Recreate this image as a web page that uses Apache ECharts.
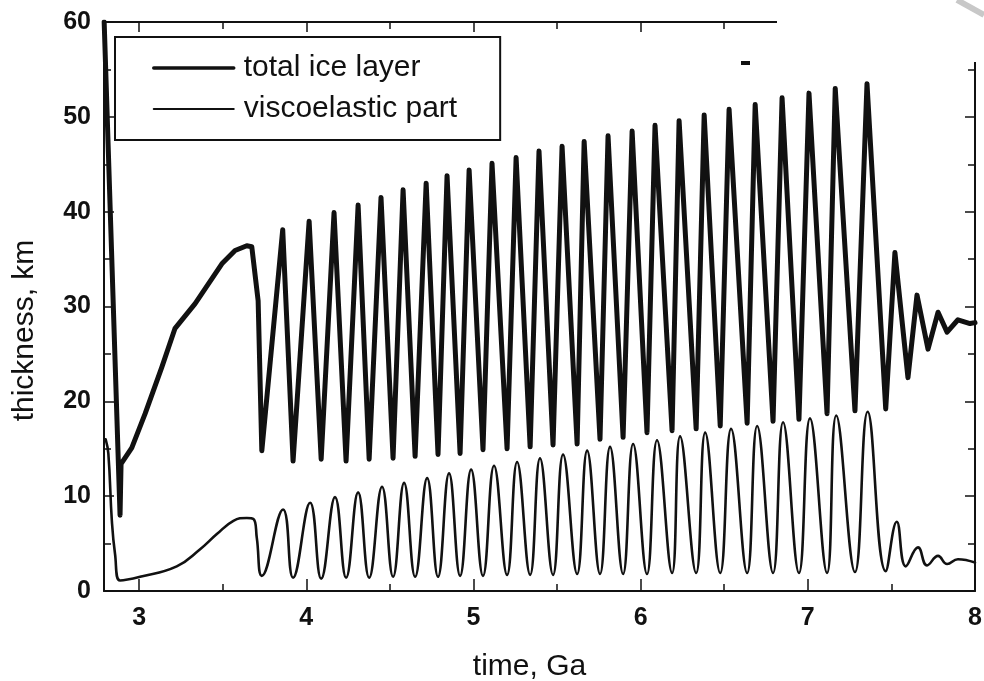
<!DOCTYPE html>
<html>
<head>
<meta charset="utf-8">
<script src="https://cdn.jsdelivr.net/npm/echarts/dist/echarts.min.js"></script>
<style>
html, body { margin: 0; padding: 0; background: #fff; }
#chart { width: 984px; height: 681px; }
</style>
</head>
<body>
<div id="chart"></div>
<script>
//////////////////////////////
//  data
//////////////////////////////
// time, Ga
var totalTime = [2.791, 2.886, 2.892, 2.956, 3.036, 3.136, 3.215, 3.335, 3.495, 3.574,
    3.644, 3.674, 3.712, 3.734,
    3.859, 3.921, 4.017, 4.089, 4.166, 4.238, 4.310, 4.376, 4.447, 4.519,
    4.579, 4.651, 4.717, 4.788, 4.842, 4.920, 4.974, 5.057, 5.111, 5.201,
    5.255, 5.339, 5.392, 5.476, 5.530, 5.620, 5.662, 5.757, 5.805, 5.895,
    5.949, 6.038, 6.086, 6.188, 6.230, 6.332, 6.380, 6.476, 6.529, 6.637,
    6.685, 6.792, 6.846, 6.947, 7.007, 7.115, 7.164, 7.282, 7.354, 7.466,
    7.521, 7.599, 7.653, 7.719, 7.779, 7.833, 7.898, 7.970, 8.0];
// thickness, km
var totalIce = [60, 8, 13.4, 15.1, 18.7, 23.6, 27.7, 30.3, 34.5, 35.9,
    36.4, 36.3, 30.6, 14.8,
    38.1, 13.7, 39.0, 13.9, 39.9, 13.7, 40.7, 13.9, 41.5, 14.0,
    42.3, 14.2, 43.0, 14.4, 43.8, 14.5, 44.4, 14.9, 45.1, 15.0,
    45.7, 15.2, 46.4, 15.4, 46.9, 15.5, 47.4, 16.0, 48.0, 16.2,
    48.5, 16.7, 49.1, 16.9, 49.6, 17.1, 50.2, 17.4, 50.8, 17.7,
    51.3, 17.9, 52.0, 18.1, 52.5, 18.7, 53.0, 19.0, 53.5, 19.2,
    35.7, 22.5, 31.2, 25.5, 29.4, 27.3, 28.6, 28.2, 28.3];

var viscoTime = [2.80, 2.816, 2.837, 2.856, 2.886, 3.006, 3.225, 3.365, 3.465, 3.564,
    3.644, 3.684, 3.704, 3.734,
    3.861, 3.921, 4.023, 4.089, 4.172, 4.238, 4.310, 4.376, 4.453, 4.519,
    4.585, 4.651, 4.723, 4.788, 4.854, 4.920, 4.986, 5.057, 5.123, 5.201,
    5.261, 5.339, 5.398, 5.476, 5.536, 5.620, 5.680, 5.757, 5.817, 5.895,
    5.955, 6.038, 6.098, 6.188, 6.236, 6.332, 6.386, 6.476, 6.541, 6.637,
    6.697, 6.792, 6.852, 6.947, 7.013, 7.115, 7.170, 7.282, 7.358, 7.466,
    7.532, 7.586, 7.659, 7.713, 7.779, 7.833, 7.898, 8.0];
var viscoPart = [16, 14.5, 7.4, 3.9, 1.1, 1.5, 2.6, 4.4, 6.0, 7.4,
    7.7, 7.6, 5.6, 1.6,
    8.6, 1.4, 9.3, 1.3, 9.9, 1.4, 10.4, 1.4, 11.0, 1.5,
    11.4, 1.5, 11.9, 1.5, 12.4, 1.6, 12.8, 1.6, 13.2, 1.7,
    13.6, 1.7, 14.0, 1.7, 14.4, 1.8, 14.8, 1.8, 15.2, 1.8,
    15.5, 1.8, 15.9, 1.9, 16.3, 1.9, 16.7, 1.9, 17.1, 1.9,
    17.4, 1.9, 17.8, 1.9, 18.2, 1.9, 18.5, 2.0, 18.9, 2.1,
    7.3, 2.6, 4.6, 2.7, 3.7, 2.85, 3.35, 3.0];

var seriesNames = ['total ice layer', 'viscoelastic part'];

function pairs(xs, ys) {
    var out = [];
    for (var i = 0; i < xs.length; i++) {
        out.push([xs[i], ys[i]]);
    }
    return out;
}

var ink = '#111';
var font = 'Liberation Sans';

// 坐标轴公共样式 (frame with inward ticks)
function frameAxis(extra) {
    var ax = {
        type: 'value',
        splitLine: { show: false },
        axisLine: { show: true, onZero: false, lineStyle: { color: ink, width: 2 } },
        axisTick: { show: true, inside: true, length: 12, lineStyle: { color: ink, width: 1.5 } },
        minorTick: { show: true, splitNumber: 2, length: 7, lineStyle: { color: ink, width: 1.5 } },
        axisLabel: {
            color: ink,
            fontFamily: font,
            fontWeight: 'bold',
            fontSize: 25
        }
    };
    for (var k in extra) ax[k] = extra[k];
    return ax;
}

var myChart = echarts.init(document.getElementById('chart'), null, { renderer: 'canvas' });

var option = {
    backgroundColor: '#fff',
    animation: false,
    grid: { left: 104, right: 9, top: 22, bottom: 90, outerBoundsMode: 'none' },
    legend: {
        orient: 'vertical',
        left: 115,
        top: 37,
        padding: [16, 43, 16, 37],
        itemGap: 11,
        itemWidth: 80,
        itemHeight: 28,
        backgroundColor: '#fff',
        borderColor: ink,
        borderWidth: 2,
        borderRadius: 0,
        itemStyle: { opacity: 0 },
        textStyle: { color: ink, fontFamily: font, fontSize: 30, padding: [0, 0, 0, 5] },
        data: [
            { name: seriesNames[0], lineStyle: { width: 3.5 } },
            { name: seriesNames[1], lineStyle: { width: 2 } }
        ]
    },
    xAxis: [
        frameAxis({
            position: 'bottom',
            min: 2.79,
            max: 8,
            minInterval: 1,
            maxInterval: 1,
            name: 'time, Ga',
            nameLocation: 'middle',
            nameGap: 61,
            nameTextStyle: { color: ink, fontFamily: font, fontSize: 30, padding: [0, 20, 0, 0] },
            axisLabel: {
                color: ink, fontFamily: font, fontWeight: 'bold', fontSize: 25,
                margin: 15, showMinLabel: false
            }
        }),
        frameAxis({
            position: 'top',
            min: 2.79,
            max: 8,
            minInterval: 1,
            maxInterval: 1,
            axisTick: { show: true, inside: true, length: 10, lineStyle: { color: ink, width: 1.5 } },
            axisLabel: { show: false }
        })
    ],
    yAxis: [
        frameAxis({
            position: 'left',
            min: 0,
            max: 60,
            interval: 10,
            name: 'thickness, km',
            nameLocation: 'middle',
            nameRotate: 90,
            nameGap: 64,
            nameTextStyle: { color: ink, fontFamily: font, fontSize: 30, padding: [0, 48, 0, 0] },
            axisTick: { show: true, inside: true, length: 10, lineStyle: { color: ink, width: 1.5 } },
            axisLabel: { color: ink, fontFamily: font, fontWeight: 'bold', fontSize: 25, margin: 13 }
        }),
        frameAxis({
            position: 'right',
            min: 0,
            max: 60,
            interval: 10,
            axisTick: { show: true, inside: true, length: 10, lineStyle: { color: ink, width: 1.5 } },
            axisLabel: { show: false }
        })
    ],
    series: [{
        name: seriesNames[0],
        type: 'line',
        symbol: 'none',
        smooth: false,
        lineStyle: { color: ink, width: 5, join: 'round', cap: 'round' },
        itemStyle: { color: ink },
        data: pairs(totalTime, totalIce),
        z: 3
    }, {
        name: seriesNames[1],
        type: 'line',
        symbol: 'none',
        smooth: 0.45,
        lineStyle: { color: ink, width: 2.6, join: 'round', cap: 'round' },
        itemStyle: { color: ink },
        data: pairs(viscoTime, viscoPart),
        z: 2
    }],
    // scan artefacts: blank top-right corner
    graphic: [{
        type: 'rect',
        z: 100,
        shape: { x: 777, y: 0, width: 207, height: 62 },
        style: { fill: '#fff' }
    }, {
        type: 'line',
        z: 101,
        shape: { x1: 957, y1: 0, x2: 984, y2: 15 },
        style: { stroke: '#c8c8c8', lineWidth: 6 }
    }, {
        type: 'rect',
        z: 101,
        shape: { x: 741, y: 61, width: 9, height: 4 },
        style: { fill: ink }
    }]
};

myChart.setOption(option);

window.addEventListener('resize', function() {
    myChart.resize();
});
</script>
</body>
</html>
